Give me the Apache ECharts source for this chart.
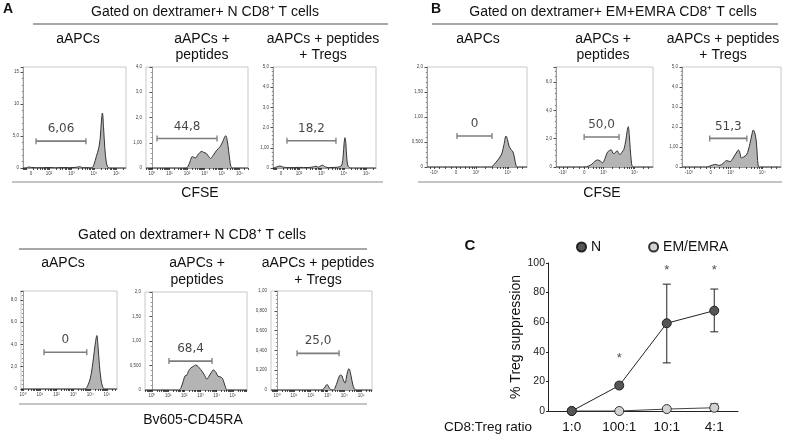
<!DOCTYPE html>
<html><head><meta charset="utf-8">
<script src="https://cdn.jsdelivr.net/npm/echarts@6/dist/echarts.min.js"></script>
<style>html,body{margin:0;padding:0;background:#fff}#c{width:791px;height:437px}</style>
</head><body><div id="c"></div>
<script>
// ---------------- DATA ----------------
// Histogram curves: [x position on axis, count]
const histA1 = [[0.84,0],[1.0,0.05],[1.1,0.15],[1.2,0.1],[1.4,0.05],[1.7,0.05],[2.0,0.08],[2.3,0.03],[2.6,0.08],[2.9,0.05],[3.2,0.1],[3.35,0.2],[3.5,0.05],[3.8,0.05],[3.9,0.05],[4.0,0.6],[4.1,1.8],[4.2,3.0],[4.27,4.5],[4.33,7.5],[4.37,8.6],[4.42,6.5],[4.48,3.0],[4.55,0.8],[4.62,0.1],[4.7,0],[5.42,0]];
const histA2 = [[-0.34,0],[1.9,0],[2.05,0.05],[2.2,0.3],[2.3,0.45],[2.4,0.42],[2.5,0.4],[2.6,0.5],[2.75,0.62],[2.85,0.66],[2.95,0.62],[3.1,0.58],[3.25,0.45],[3.35,0.38],[3.5,0.5],[3.7,0.7],[3.9,0.85],[4.05,1.05],[4.15,1.22],[4.22,1.28],[4.3,1.1],[4.38,0.7],[4.45,0.3],[4.52,0.05],[4.6,0],[5.49,0]];
const histA3 = [[0.84,0],[1.0,0.05],[1.15,0.1],[1.3,0.04],[1.6,0.02],[2.0,0.03],[2.4,0.02],[2.65,0.06],[2.75,0.09],[2.85,0.04],[2.95,0.1],[3.05,0.14],[3.15,0.06],[3.3,0.02],[3.6,0.03],[3.8,0.06],[3.9,0.15],[3.96,0.6],[4.0,1.2],[4.04,1.5],[4.08,1.2],[4.12,0.5],[4.18,0.1],[4.3,0],[5.42,0]];
const histB1 = [[0,0],[22,0],[64,0],[67,0.05],[70,0.12],[73,0.2],[75,0.28],[77,0.45],[79,0.62],[80.5,0.55],[82,0.42],[84,0.35],[86,0.3],[87.5,0.18],[89,0.03],[90,0],[100,0]];
const histB2 = [[0,0],[30,0],[33,0.05],[37,0.2],[40,0.4],[43,0.5],[45.5,0.42],[48,0.3],[50.5,0.6],[53,1.05],[55,1.15],[57,1.22],[59,0.95],[61,1.0],[63,1.15],[64.5,1.0],[66,0.88],[68,1.05],[70,1.25],[72,1.9],[73.5,2.6],[74.5,2.85],[75.5,2.3],[76.5,1.3],[77.5,0.5],[78.5,0.05],[80,0],[100,0]];
const histB3 = [[0,0],[24,0],[27,0.03],[31,0.1],[34,0.13],[37,0.08],[40,0.12],[43,0.25],[45,0.32],[48.5,0.27],[51,0.4],[53.5,0.6],[56,0.8],[57,0.85],[58.5,0.7],[60,0.45],[62,0.5],[65,0.6],[67,0.85],[68.7,1.18],[70.5,1.6],[72,1.85],[73.5,1.7],[75,1.3],[76,0.6],[77,0.05],[78,0],[100,0]];
const histC1 = [[-0.12,0],[3.7,0],[3.85,0.3],[4.0,0.9],[4.1,1.7],[4.2,2.8],[4.3,4.0],[4.4,4.8],[4.47,3.8],[4.55,2.2],[4.65,0.8],[4.75,0.2],[4.85,0],[5.6,0]];
const histC2 = [[-0.43,0],[1.65,0],[1.8,0.05],[1.95,0.2],[2.05,0.29],[2.15,0.3],[2.25,0.38],[2.4,0.45],[2.55,0.48],[2.7,0.51],[2.85,0.48],[3.0,0.42],[3.1,0.38],[3.25,0.3],[3.4,0.22],[3.5,0.27],[3.65,0.35],[3.8,0.41],[3.95,0.36],[4.08,0.28],[4.2,0.27],[4.35,0.24],[4.45,0.15],[4.55,0.05],[4.65,0],[5.87,0]];
const histC3 = [[-0.36,0],[2.6,0],[2.8,0.015],[2.9,0.045],[2.98,0.055],[3.08,0.03],[3.2,0.003],[3.35,0],[3.45,0.02],[3.6,0.09],[3.72,0.145],[3.82,0.15],[3.95,0.1],[4.05,0.07],[4.12,0.12],[4.2,0.19],[4.28,0.215],[4.38,0.16],[4.5,0.06],[4.6,0.01],[4.7,0],[5.65,0]];

// Gates: [start, end, level] and their percentages
const gateA1 = [1.42,3.64,4.2],  gateLabelA1 = "6,06";
const gateA2 = [0.29,3.72,1.17], gateLabelA2 = "44,8";
const gateA3 = [1.46,3.64,1.35], gateLabelA3 = "18,2";
const gateB1 = [30,65,0.62],     gateLabelB1 = "0";
const gateB2 = [29,65,2.12],     gateLabelB2 = "50,0";
const gateB3 = [28,65.5,1.43],   gateLabelB3 = "51,3";
const gateC1 = [1.25,3.8,3.3],   gateLabelC1 = "0";
const gateC2 = [1.05,3.71,0.59], gateLabelC2 = "68,4";
const gateC3 = [1.19,3.69,0.37], gateLabelC3 = "25,0";

// Tick labels
const xValsZero = [1.2,2,3,4,5], xLabsZero = ["0","10\u00B2","10\u00B3","10\u2074","10\u2075"];
const xValsLog = [0,1,2,3,4,5],  xLabsLog = ["10\u2070","10\u00B9","10\u00B2","10\u00B3","10\u2074","10\u2075"];
const xValsBi = [7,29,49,81],    xLabsBi = ["-10\u00B3","0","10\u00B3","10\u2074"];
const yValsA1 = [0,5,10,15], yLabsA1 = ["0","5,0","10","15"];
const yValsA2 = [0,1,2,3,4], yLabsA2 = ["0","1,00","2,0","3,0","4,0"];
const yValsA3 = [0,1,2,3,4,5], yLabsA3 = ["0","1,00","2,0","3,0","4,0","5,0"];
const yValsB1 = [0,0.5,1,1.5,2], yLabsB1 = ["0","0,500","1,00","1,50","2,0"];
const yValsB2 = [0,2,4,6], yLabsB2 = ["0","2,0","4,0","6,0"];
const yValsC1 = [0,2,4,6,8], yLabsC1 = ["0","2,0","4,0","6,0","8,0"];
const yValsC3 = [0,0.2,0.4,0.6,0.8,1], yLabsC3 = ["0","0,200","0,400","0,600","0,800","1,00"];

// Panel C
const ratioCats = ["1:0","100:1","10:1","4:1"];
const nMean  = [0, 17.2, 59.3, 67.8];
const nLow   = [0, 15.5, 32.5, 53.5];
const nHigh  = [0, 19.0, 85.7, 82.4];
const emMean = [0, 0, 1.3, 2.2];
const emLow  = [0, 0, 0.6, 0.4];
const emHigh = [0, 0, 1.8, 4.8];
const starCats = [1, 2, 3];
const starY    = [35.8, 95.3, 95.3];

// ---------------- BUILD ----------------
const FONT = "'Liberation Sans', Arial, sans-serif";
const subLog = [0.301,0.477,0.602,0.699,0.778,0.845,0.903,0.954];
function logTicks(r){ const t=[]; for(let d=Math.floor(r[0]); d<=Math.ceil(r[1]); d++){ [0].concat(subLog).forEach(s=>{const v=d+s; if(v>r[0]&&v<r[1]) t.push(v);}); } return t; }
const biTicks = [3,7,12,18,24,29,33,38,42,45,47,49,58,65,70,73,76,78,80,81,90,95];

const panels = [
 {box:[23,67,103,101],  xr:[0.84,5.42], xv:xValsZero, xl:xLabsZero, xt:'log', yMax:15.8, ys:5,   yv:yValsA1, yl:yLabsA1, c:histA1, g:gateA1, gl:gateLabelA1},
 {box:[146,67,102,101], xr:[-0.34,5.49],xv:xValsLog,  xl:xLabsLog,  xt:'log', yMax:4.0,  ys:1,   yv:yValsA2, yl:yLabsA2, c:histA2, g:gateA2, gl:gateLabelA2},
 {box:[273,67,103,101], xr:[0.84,5.42], xv:xValsZero, xl:xLabsZero, xt:'log', yMax:5.0,  ys:1,   yv:yValsA3, yl:yLabsA3, c:histA3, g:gateA3, gl:gateLabelA3},
 {box:[427,67,100,100], xr:[0,100],     xv:xValsBi,   xl:xLabsBi,   xt:'bi',  yMax:2.0,  ys:0.5, yv:yValsB1, yl:yLabsB1, c:histB1, g:gateB1, gl:gateLabelB1},
 {box:[556,67,97,100],  xr:[0,100],     xv:xValsBi,   xl:xLabsBi,   xt:'bi',  yMax:7.07, ys:2,   yv:yValsB2, yl:yLabsB2, c:histB2, g:gateB2, gl:gateLabelB2},
 {box:[682,67,99,100],  xr:[0,100],     xv:xValsBi,   xl:xLabsBi,   xt:'bi',  yMax:5.0,  ys:1,   yv:yValsA3, yl:yLabsA3, c:histB3, g:gateB3, gl:gateLabelB3},
 {box:[21,291,96,98],   xr:[-0.12,5.6], xv:xValsLog,  xl:xLabsLog,  xt:'log', yMax:8.8,  ys:2,   yv:yValsC1, yl:yLabsC1, c:histC1, g:gateC1, gl:gateLabelC1},
 {box:[145,292,102,98], xr:[-0.43,5.87],xv:xValsLog,  xl:xLabsLog,  xt:'log', yMax:2.0,  ys:0.5, yv:yValsB1, yl:yLabsB1, c:histC2, g:gateC2, gl:gateLabelC2},
 {box:[271,291,101,99], xr:[-0.36,5.65],xv:xValsLog,  xl:xLabsLog,  xt:'log', yMax:1.0,  ys:0.2, yv:yValsC3, yl:yLabsC3, c:histC3, g:gateC3, gl:gateLabelC3}
];

const option = {animation:false, textStyle:{fontFamily:FONT}, grid:[], xAxis:[], yAxis:[], series:[], graphic:[]};

panels.forEach((p,i)=>{
  option.grid.push({left:p.box[0], top:p.box[1], width:p.box[2], height:p.box[3], show:true, borderColor:'#c8c8c8', borderWidth:1, backgroundColor:'#fff'});
  option.xAxis.push({gridIndex:i, type:'value', min:p.xr[0], max:p.xr[1],
    axisLine:{show:true, onZero:false, lineStyle:{color:'#9a9a9a', width:1}},
    axisTick:{show:true, customValues:(p.xt==='log'?logTicks(p.xr):biTicks), length:2, lineStyle:{color:'#222', width:0.8}},
    axisLabel:{show:true, customValues:p.xv, formatter:(v)=>{const k=p.xv.findIndex(a=>Math.abs(a-v)<1e-6); return k>=0?p.xl[k]:'';}, fontSize:4.5, margin:3, color:'#444'},
    splitLine:{show:false}});
  option.yAxis.push({gridIndex:i, type:'value', min:0, max:p.yMax, interval:p.ys,
    axisLine:{show:true, lineStyle:{color:'#9a9a9a', width:1}},
    axisTick:{show:true, length:2.5, lineStyle:{color:'#222', width:0.8}},
    minorTick:{show:true, splitNumber:5, length:1.2, lineStyle:{color:'#444', width:0.6}},
    axisLabel:{show:true, customValues:p.yv, formatter:(v)=>{const k=p.yv.findIndex(a=>Math.abs(a-v)<1e-6); return k>=0?p.yl[k]:'';}, fontSize:4.5, margin:4, color:'#444'},
    splitLine:{show:false}});
  option.series.push({type:'line', xAxisIndex:i, yAxisIndex:i, data:p.c, smooth:0.35, showSymbol:false, silent:true,
    lineStyle:{color:'#333', width:1}, areaStyle:{color:'#b4b4b4', opacity:1}, z:2});
  option.series.push({type:'line', xAxisIndex:i, yAxisIndex:i, data:[[p.g[0],p.g[2]],[p.g[1],p.g[2]]], symbol:'rect', symbolSize:[1.3,6], showSymbol:true, silent:true,
    lineStyle:{color:'#7c7c7c', width:1.6}, itemStyle:{color:'#7c7c7c'}, z:3});
  option.series.push({type:'scatter', xAxisIndex:i, yAxisIndex:i, data:[[(p.g[0]+p.g[1])/2, p.g[2]]], symbolSize:0, silent:true,
    label:{show:true, position:'top', distance:6, formatter:p.gl, fontSize:12, color:'#151515', fontFamily:"'DejaVu Sans', sans-serif"}, z:4});
});

// Panel C
const ci = panels.length;
option.grid.push({left:548, top:263, width:190, height:148});
option.xAxis.push({gridIndex:ci, type:'category', data:ratioCats, boundaryGap:true,
  axisLine:{lineStyle:{color:'#222', width:1}}, axisTick:{show:false},
  axisLabel:{fontSize:13.5, color:'#111', margin:9}});
option.yAxis.push({gridIndex:ci, type:'value', min:0, max:100, interval:20,
  name:'% Treg suppression', nameLocation:'middle', nameGap:22, nameTextStyle:{fontSize:14, color:'#111'},
  axisLine:{show:true, lineStyle:{color:'#222', width:1}}, axisTick:{show:true, length:2, lineStyle:{color:'#222'}},
  axisLabel:{fontSize:10.5, color:'#222', margin:3}, splitLine:{show:false}});
const errRender = (params, api)=>{
  const x=api.value(0), lo=api.value(1), hi=api.value(2);
  const a=api.coord([x,hi]), b=api.coord([x,lo]); const w=4;
  const st={stroke:'#222', lineWidth:1};
  return {type:'group', children:[
    {type:'line', shape:{x1:a[0],y1:a[1],x2:b[0],y2:b[1]}, style:st},
    {type:'line', shape:{x1:a[0]-w,y1:a[1],x2:a[0]+w,y2:a[1]}, style:st},
    {type:'line', shape:{x1:b[0]-w,y1:b[1],x2:b[0]+w,y2:b[1]}, style:st}]};
};
option.series.push({type:'custom', name:'errEM', xAxisIndex:ci, yAxisIndex:ci, renderItem:errRender, encode:{x:0,y:[1,2]},
  data: ratioCats.map((c,k)=>[k, emLow[k], emHigh[k]]).filter((d,k)=>emHigh[k]>emLow[k]), z:1, silent:true});
option.series.push({type:'custom', name:'errN', xAxisIndex:ci, yAxisIndex:ci, renderItem:errRender, encode:{x:0,y:[1,2]},
  data: ratioCats.map((c,k)=>[k, nLow[k], nHigh[k]]).filter((d,k)=>nHigh[k]>nLow[k]), z:1, silent:true});
option.series.push({type:'line', name:'EM/EMRA', xAxisIndex:ci, yAxisIndex:ci, data:emMean, symbol:'circle', symbolSize:9,
  lineStyle:{color:'#444', width:1}, itemStyle:{color:'#d2d2d2', borderColor:'#333', borderWidth:1}, z:3});
option.series.push({type:'line', name:'N', xAxisIndex:ci, yAxisIndex:ci, data:nMean, symbol:'circle', symbolSize:9,
  lineStyle:{color:'#222', width:1}, itemStyle:{color:'#555', borderColor:'#222', borderWidth:1}, z:4});
option.series.push({type:'scatter', xAxisIndex:ci, yAxisIndex:ci, data:starCats.map((c,k)=>[c, starY[k]]), symbolSize:0, silent:true,
  label:{show:true, position:'inside', formatter:'*', fontSize:13, color:'#222'}, z:5});
option.legend = {data:['N','EM/EMRA'], left:571, top:235, itemWidth:9, itemHeight:9, itemGap:47, icon:'circle',
  textStyle:{fontSize:14, color:'#111', fontFamily:FONT}, selectedMode:false};

// Text and rules
function T(x,y,t,size,bold){ option.graphic.push({type:'text', silent:true, style:{x:x, y:y, text:t, font:(bold?'bold ':'')+size+'px '+FONT, fill:'#111', textAlign:'center', textVerticalAlign:'middle', align:'center', verticalAlign:'middle'}}); }
function L(x1,y1,x2,y2,c){ option.graphic.push({type:'line', silent:true, shape:{x1:x1,y1:y1,x2:x2,y2:y2}, style:{stroke:c||'#8a8a8a', lineWidth:1.5}}); }
T(8,9,'A',14,true); T(436,9,'B',14,true); T(470,246,'C',15,true);
T(205,12,'Gated on dextramer+ N CD8\u207A T cells',14);
L(33,24,388,24);
T(78,39,'aAPCs',14); T(202,39,'aAPCs +',14); T(202,55,'peptides',14); T(323,39,'aAPCs + peptides',14); T(323,55,'+ Tregs',14);
L(12,182,383,182,'#b0b0b0'); T(200,193,'CFSE',14);
T(613,12,'Gated on dextramer+ EM+EMRA CD8\u207A T cells',14);
L(432,24,778,24);
T(478,39,'aAPCs',14); T(603,39,'aAPCs +',14); T(603,55,'peptides',14); T(723,39,'aAPCs + peptides',14); T(723,55,'+ Tregs',14);
L(418,182,782,182,'#b0b0b0'); T(602,193,'CFSE',14);
T(192,235,'Gated on dextramer+ N CD8\u207A T cells',14);
L(19,249,367,249);
T(63,263,'aAPCs',14); T(197,263,'aAPCs +',14); T(197,280,'peptides',14); T(318,263,'aAPCs + peptides',14); T(318,280,'+ Tregs',14);
L(19,404,367,404,'#b0b0b0'); T(193,420,'Bv605-CD45RA',14);
T(488,427,'CD8:Treg ratio',13.5);

const chart = echarts.init(document.getElementById('c'), null, {renderer:'canvas'});
chart.setOption(option);
</script></body></html>
